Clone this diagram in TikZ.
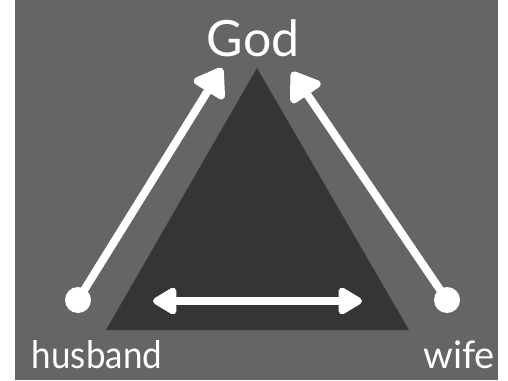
\documentclass[tikz,border=0pt]{standalone}
\usepackage{fontspec}
\setmainfont{Lato}
\usetikzlibrary{arrows.meta}
\definecolor{bgc}{HTML}{656565}
\definecolor{tric}{HTML}{353535}
\tikzset{
  dot/.style={circle,fill=white,minimum size=26pt,inner sep=0pt},
  arr/.style={white,line width=8pt,-{Triangle[length=31pt,width=40pt,round]}},
  darr/.style={white,line width=8pt,{Triangle[length=27pt,width=30pt,round]}-{Triangle[length=27pt,width=30pt,round]}},
  lbl/.style={text=white,inner sep=0pt,anchor=base}
}
\begin{document}
\begin{tikzpicture}[x=1pt,y=-1pt]
\useasboundingbox (0,0) rectangle (508,380);
\fill[white] (0,0) rectangle (508,380);
\fill[bgc] (15,0) rectangle (498,380);
\fill[tric] (257,68) -- (106,330) -- (409,330) -- cycle;
\node[dot] (hdot) at (78,300) {};
\node[dot] (wdot) at (447,300) {};
\coordinate (gl) at (222,68);
\coordinate (gr) at (292,72);
\coordinate (bl) at (153,301);
\coordinate (br) at (362,301);
\draw[arr] (hdot.center) -- (gl);
\draw[arr] (wdot.center) -- (gr);
\draw[darr] (bl) -- (br);
\node[lbl,font=\fontsize{50}{50}\selectfont] (god) at (253,56) {God};
\node[lbl,font=\fontsize{38}{38}\selectfont,xscale=0.92] (husband) at (97,368) {husband};
\node[lbl,font=\fontsize{38}{38}\selectfont] (wife) at (459,368) {wife};
\end{tikzpicture}
\end{document}
